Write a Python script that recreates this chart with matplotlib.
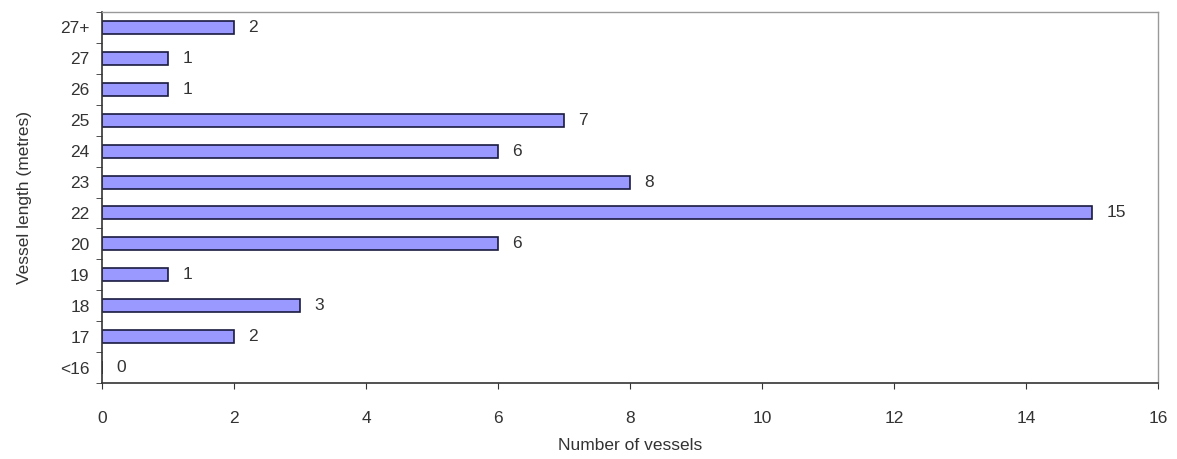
import matplotlib
matplotlib.use("Agg")
import matplotlib.pyplot as plt

categories = ["<16", "17", "18", "19", "20", "22", "23", "24", "25", "26", "27", "27+"]
values = [0, 2, 3, 1, 6, 15, 8, 6, 7, 1, 1, 2]
x_ticks = [0, 2, 4, 6, 8, 10, 12, 14, 16]

plt.rcParams['font.family'] = ['Liberation Sans', 'DejaVu Sans']
text_color = "#333333"

fig = plt.figure(figsize=(11.77, 4.59), dpi=100)
ax = fig.add_axes([102/1177, 1-383/459, (1158-102)/1177, (383-12)/459])

y = list(range(len(categories)))
ax.barh(y, values, height=0.42, color="#9999ff", edgecolor="#1a1a40", linewidth=1.2)

for yi, v in zip(y, values):
    ax.text(v + 0.22, yi, str(v), va="center", ha="left", fontsize=12.5, color=text_color)

ax.set_xlim(0, 16)
ax.set_ylim(-0.5, len(categories) - 0.5)
ax.set_xticks(x_ticks)
ax.set_xticklabels([str(t) for t in x_ticks], fontsize=12.5, color=text_color)
ax.set_yticks(y)
ax.set_yticklabels(categories, fontsize=12.5, color=text_color)
ax.tick_params(axis="y", length=0, pad=9)
ax.set_yticks([i - 0.5 for i in range(len(categories) + 1)], minor=True)
ax.tick_params(axis="y", which="minor", length=4, direction="out", color="#333333")
ax.tick_params(axis="x", length=4, direction="out", pad=16, color="#333333")

ax.set_xlabel("Number of vessels", fontsize=12.5, color=text_color, labelpad=9)
ax.set_ylabel("Vessel length (metres)", fontsize=12.5, color=text_color, labelpad=20)

for s in ["left", "bottom"]:
    ax.spines[s].set_color("#333333")
    ax.spines[s].set_linewidth(1.2)
for s in ["top", "right"]:
    ax.spines[s].set_color("#999999")
    ax.spines[s].set_linewidth(1.0)

fig.savefig("out.png", dpi=100)
